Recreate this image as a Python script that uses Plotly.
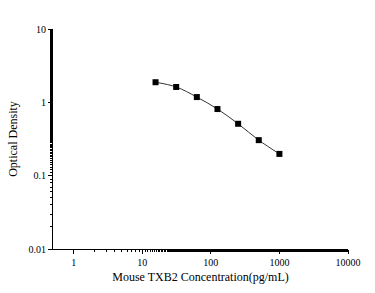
import plotly.graph_objects as go
import numpy as np

concentration = [15.63, 31.25, 62.5, 125, 250, 500, 1000]
optical_density = [1.88, 1.62, 1.18, 0.81, 0.51, 0.305, 0.198]

x_tickvals = [1, 10, 100, 1000, 10000]
x_ticktext = ["1", "10", "100", "1000", "10000"]
y_tickvals = [0.01, 0.1, 1, 10]
y_ticktext = ["0.01", "0.1", "1", "10"]

font_family = "Liberation Serif"

fig = go.Figure()
fig.add_trace(go.Scatter(
    x=concentration, y=optical_density,
    mode="lines+markers",
    line=dict(color="#333333", width=1, shape="spline"),
    marker=dict(symbol="square", size=6, color="black"),
    showlegend=False,
))

fig.update_layout(
    width=375, height=293,
    margin=dict(l=49, r=27, t=29, b=44),
    paper_bgcolor="white", plot_bgcolor="white",
    font=dict(family=font_family, color="black", size=10),
)
fig.update_xaxes(
    type="log", range=[np.log10(0.5), 4],
    showline=True, linecolor="black", linewidth=1,
    showgrid=False, zeroline=False,
    ticks="outside", ticklen=4, tickcolor="black",
    tickvals=x_tickvals, ticktext=x_ticktext,
    tickfont=dict(size=10, family=font_family, color="black"),
    minor=dict(ticks="outside", ticklen=2, tickcolor="black", showgrid=False),
    title=dict(text="Mouse TXB2 Concentration(pg/mL)", font=dict(size=12, family=font_family, color="black"), standoff=5),
)
fig.update_yaxes(
    type="log", range=[-2, 1],
    showline=True, linecolor="black", linewidth=1,
    showgrid=False, zeroline=False,
    ticks="outside", ticklen=4, tickcolor="black",
    tickvals=y_tickvals, ticktext=y_ticktext,
    tickfont=dict(size=10, family=font_family, color="black"),
    minor=dict(ticks="outside", ticklen=2, tickcolor="black", showgrid=False),
    title=dict(text="Optical Density", font=dict(size=12, family=font_family, color="black"), standoff=8),
)

fig.write_html("out.html")
